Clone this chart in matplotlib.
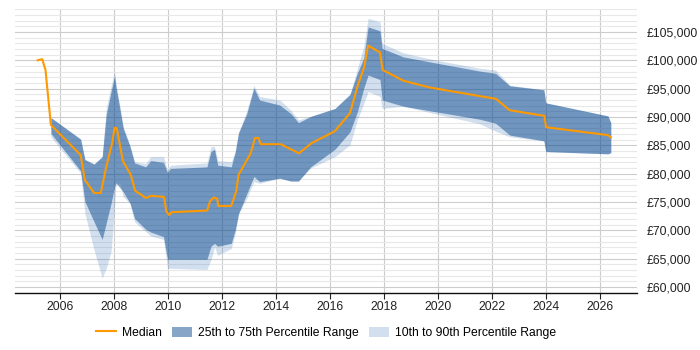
import matplotlib
matplotlib.use("Agg")
import matplotlib.pyplot as plt
from matplotlib.ticker import MultipleLocator, FuncFormatter
import numpy as np

plt.rcParams.update({"font.family": ["Liberation Sans", "DejaVu Sans"], "font.size": 8.7})

# median salary line
med_years = [2005.16, 2005.33, 2005.45, 2005.65, 2006.75, 2006.91, 2007.25, 2007.50, 2007.70,
             2007.92, 2008.01, 2008.09, 2008.32, 2008.61, 2008.77, 2009.17, 2009.36, 2009.84,
             2009.92, 2010.03, 2010.13, 2011.44, 2011.55, 2011.69, 2011.81, 2011.85, 2012.33,
             2012.52, 2012.60, 2013.05, 2013.21, 2013.34, 2013.42, 2014.16, 2014.84, 2015.31,
             2016.17, 2016.73, 2017.02, 2017.26, 2017.40, 2017.84, 2017.94, 2018.71, 2019.69,
             2022.14, 2022.64, 2023.93, 2023.99, 2026.29, 2026.39]
median = [100000, 100200, 98300, 88600, 83300, 78900, 76600, 76600, 81200,
          85400, 88100, 88000, 82200, 79800, 77000, 75700, 76100, 75900,
          73400, 72700, 73200, 73500, 75200, 75800, 75600, 74300, 74300,
          77000, 79800, 83600, 86300, 86300, 85200, 85200, 83600, 85400,
          87500, 90700, 95600, 98900, 102600, 101400, 98300, 96400, 95200,
          93200, 91200, 90200, 88200, 86800, 86400]

# percentile bands
band_years = [2005.65, 2006.75, 2006.91, 2007.25, 2007.55, 2007.70, 2007.88, 2008.01, 2008.06,
              2008.21, 2008.33, 2008.58, 2008.75, 2009.16, 2009.35, 2009.82, 2009.97, 2010.07,
              2011.43, 2011.58, 2011.71, 2011.83, 2012.33, 2012.48, 2012.60, 2012.90, 2013.17,
              2013.38, 2014.13, 2014.54, 2014.82, 2015.27, 2016.17, 2016.73, 2017.00, 2017.24,
              2017.40, 2017.84, 2017.92, 2018.71, 2019.94, 2021.54, 2022.12, 2022.65, 2023.91,
              2023.98, 2026.28, 2026.39]
q75 = [89900, 86100, 82500, 81700, 83000, 90400, 94500, 97200, 95300,
       91300, 88000, 84800, 81900, 81200, 82300, 82000, 80200, 80900,
       81200, 83900, 84300, 81500, 81200, 83900, 87200, 90500, 95100,
       93000, 92100, 90600, 89000, 90100, 91500, 94000, 97700, 100400,
       105900, 105200, 102100, 100600, 99500, 98100, 97700, 95500, 94800,
       92500, 90200, 89000]
q25 = [87100, 80500, 75100, 71500, 68400, 71300, 74800, 77700, 78400,
       77500, 76800, 74800, 72100, 70200, 69700, 68900, 64900, 64900,
       64900, 67200, 67700, 67200, 67700, 70100, 72900, 76400, 79500,
       78600, 79200, 78700, 78700, 81200, 84300, 87400, 90900, 95100,
       97400, 96600, 93000, 91900, 90900, 89600, 88900, 86800, 85800,
       83900, 83500, 83700]
p90 = [89900, 86100, 82500, 81700, 83000, 91500, 95500, 98100, 96000,
       91800, 88300, 85000, 82100, 81800, 83000, 83000, 80600, 81500,
       81900, 84800, 84800, 82300, 82100, 83900, 87200, 91000, 95600,
       93600, 93000, 91200, 89500, 90100, 91500, 94000, 98500, 102500,
       107400, 106800, 103000, 101300, 100000, 98600, 98300, 95600, 94800,
       92500, 90200, 89000]
p10 = [86500, 80100, 73000, 66500, 61600, 63300, 66300, 74500, 78000,
       78300, 75900, 74800, 71500, 69800, 69000, 68400, 63300, 63300,
       63100, 64800, 67100, 65600, 66800, 69500, 73000, 75600, 78600,
       78300, 79200, 78700, 78700, 81000, 83000, 85100, 89500, 92400,
       94500, 93600, 91500, 91900, 90500, 88800, 87500, 86500, 85800,
       83900, 83500, 83700]

ORANGE = "#ff9900"
DARK = "#0f4d91"
LIGHT = "#1f62ad"

fig = plt.figure(figsize=(7, 3.5), dpi=100)
ax = fig.add_axes([0.0214, 0.1637, 0.8886, 0.8097])

ax.fill_between(band_years, p10, p90, color=LIGHT, alpha=0.2, lw=0,
                label="10th to 90th Percentile Range", zorder=2)
ax.fill_between(band_years, q25, q75, color=DARK, alpha=0.5, lw=0,
                label="25th to 75th Percentile Range", zorder=3)
ax.plot(med_years, median, color=ORANGE, lw=1.5, label="Median", zorder=4)

ax.set_xlim(2004.32, 2027.36)
ax.set_ylim(59000, 109000)
ax.xaxis.set_major_locator(MultipleLocator(2))
ax.yaxis.set_major_locator(MultipleLocator(5000))
ax.yaxis.set_minor_locator(MultipleLocator(1000))
ax.yaxis.set_major_formatter(FuncFormatter(lambda v, p: f"\u00a3{v:,.0f}"))
ax.yaxis.tick_right()
ax.tick_params(axis="y", which="both", length=0, pad=7, colors="#222222")
ax.tick_params(axis="x", length=4, width=0.8, pad=2, colors="#222222")
ax.grid(True, axis="x", color="#cccccc", lw=0.8, zorder=0)
ax.grid(True, axis="y", which="major", color="#cccccc", lw=0.8, zorder=0)
ax.grid(True, axis="y", which="minor", color="#e8e8e8", lw=0.8, zorder=0)
ax.set_axisbelow(True)
for s in ("left", "right", "top"):
    ax.spines[s].set_visible(False)
ax.spines["bottom"].set_color("#111111")
ax.spines["bottom"].set_linewidth(1.0)

h, l = ax.get_legend_handles_labels()
order = [2, 1, 0]
fig.legend([h[i] for i in order], [l[i] for i in order], loc="center",
           bbox_to_anchor=(326 / 700, 0.049), ncol=3, frameon=False,
           handlelength=1.65, handleheight=0.9, handletextpad=0.45, columnspacing=0.9,
           fontsize=8.7)

fig.savefig("out.png", dpi=100)
